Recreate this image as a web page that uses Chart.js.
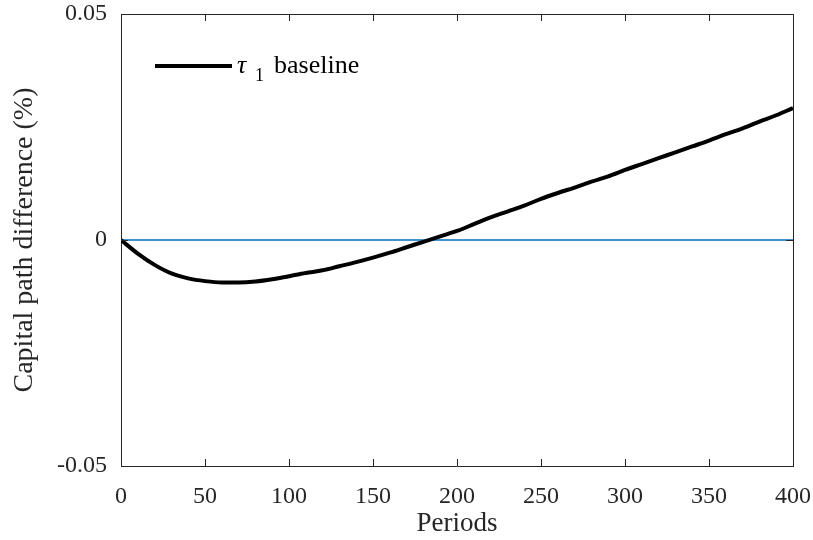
<!DOCTYPE html>
<html>
<head>
<meta charset="utf-8">
<script src="https://cdn.jsdelivr.net/npm/chart.js@4/dist/chart.umd.min.js"></script>
<style>
  html, body { margin: 0; padding: 0; background: #fff; }
  #wrap { width: 813px; height: 540px; }
</style>
</head>
<body>
<div id="wrap"><canvas id="myChart" width="813" height="540"></canvas></div>
<script>
// values
var periods = [0, 10, 20, 30, 40, 50, 60, 70, 80, 90, 100, 110, 120, 130, 140, 150, 160, 170, 180, 190,
               200, 210, 220, 230, 240, 250, 260, 270, 280, 290, 300, 310, 320, 330, 340, 350, 360, 370, 380, 390, 400];
var capDiff = [0, -0.0030, -0.0055, -0.0074, -0.0085, -0.0091, -0.0094, -0.0094, -0.0092, -0.0087,
               -0.0080, -0.0073, -0.0067, -0.0058, -0.0049, -0.0039, -0.0028, -0.0016, -0.0004, 0.0008,
               0.0020, 0.0035, 0.0050, 0.0063, 0.0076, 0.0091, 0.0104, 0.0116, 0.0129, 0.0141,
               0.0155, 0.0168, 0.0181, 0.0194, 0.0207, 0.0220, 0.0234, 0.0247, 0.0262, 0.0276, 0.0292];
var zeroX = [0, 400];
var zeroY = [0, 0];
var xTicks = [0, 50, 100, 150, 200, 250, 300, 350, 400];
var yTicks = [-0.05, 0, 0.05];
var yTickLabels = ['-0.05', '0', '0.05'];

var axisColor = 'rgb(38,38,38)';
var fontFamily = "'Liberation Serif', 'DejaVu Serif', serif";

function toPoints(xs, ys) {
  var pts = [];
  for (var i = 0; i < xs.length; i++) {
    pts.push({x: xs[i], y: ys[i]});
  }
  return pts;
}

// box round the plot and inward ticks, like the matlab figure
var boxPlugin = {
  id: 'boxPlugin',
  afterDatasetsDraw: function(chart) {
    var ctx = chart.ctx;
    var a = chart.chartArea;
    var xs = chart.scales.x, ys = chart.scales.y;
    ctx.save();
    ctx.strokeStyle = axisColor;
    ctx.lineWidth = 1;
    ctx.beginPath();
    ctx.moveTo(a.left, a.top + 0.5);
    ctx.lineTo(a.right + 0.5, a.top + 0.5);
    ctx.lineTo(a.right + 0.5, a.bottom);
    ctx.stroke();
    var len = 7;
    ctx.beginPath();
    for (var i = 0; i < xTicks.length; i++) {
      var px = Math.round(xs.getPixelForValue(xTicks[i])) + 0.5;
      ctx.moveTo(px, a.bottom);
      ctx.lineTo(px, a.bottom - len);
      ctx.moveTo(px, a.top);
      ctx.lineTo(px, a.top + len);
    }
    for (var j = 0; j < yTicks.length; j++) {
      var py = Math.round(ys.getPixelForValue(yTicks[j])) + 0.5;
      ctx.moveTo(a.left, py);
      ctx.lineTo(a.left + len, py);
      ctx.moveTo(a.right, py);
      ctx.lineTo(a.right - len, py);
    }
    ctx.stroke();
    ctx.restore();
  },
  afterDraw: function(chart) {
    // legend drawn inside the axes, top-left
    var ctx = chart.ctx;
    var a = chart.chartArea;
    var ds = chart.data.datasets[0];
    var lx = a.left + 34, ly = a.top + 52;
    ctx.save();
    ctx.strokeStyle = ds.borderColor;
    ctx.lineWidth = ds.borderWidth;
    ctx.beginPath();
    ctx.moveTo(lx, ly);
    ctx.lineTo(lx + 77, ly);
    ctx.stroke();
    ctx.fillStyle = '#000';
    ctx.textBaseline = 'alphabetic';
    ctx.font = 'italic 26px ' + fontFamily;
    ctx.fillText('\u03c4', lx + 82, ly + 7);
    ctx.font = '18px ' + fontFamily;
    ctx.fillText('1', lx + 100, ly + 15);
    ctx.font = '26px ' + fontFamily;
    ctx.fillText('baseline', lx + 119, ly + 7);
    ctx.restore();
  }
};

var config = {
  type: 'line',
  data: {
    datasets: [{
      label: '\u03c4\u2081 baseline',
      data: toPoints(periods, capDiff),
      borderColor: '#000',
      borderWidth: 4,
      pointRadius: 0,
      fill: false,
      cubicInterpolationMode: 'monotone',
      order: 0
    }, {
      label: 'zero',
      data: toPoints(zeroX, zeroY),
      borderColor: 'rgb(0,114,189)',
      borderWidth: 1.5,
      pointRadius: 0,
      fill: false,
      order: 1
    }]
  },
  options: {
    responsive: false,
    animation: false,
    layout: { padding: { top: 14, right: 20, left: 0, bottom: 0 } },
    plugins: {
      legend: { display: false },
      tooltip: { enabled: false }
    },
    scales: {
      x: {
        type: 'linear',
        min: 0,
        max: 400,
        afterBuildTicks: function(scale) {
          scale.ticks = xTicks.map(function(v) { return {value: v}; });
        },
        afterFit: function(scale) {
          scale.height = 74;
          scale.paddingLeft = 0;
          scale.paddingRight = 0;
        },
        grid: { drawOnChartArea: false, drawTicks: false },
        border: { display: true, color: axisColor, width: 1 },
        ticks: {
          color: axisColor,
          padding: 16,
          maxRotation: 0,
          font: { family: fontFamily, size: 24 }
        },
        title: {
          display: true,
          text: 'Periods',
          color: axisColor,
          padding: { top: 0, bottom: 0 },
          font: { family: fontFamily, size: 27 }
        }
      },
      y: {
        type: 'linear',
        min: -0.05,
        max: 0.05,
        afterBuildTicks: function(scale) {
          scale.ticks = yTicks.map(function(v) { return {value: v}; });
        },
        afterFit: function(scale) {
          scale.width = 121;
          scale.paddingTop = 0;
          scale.paddingBottom = 0;
        },
        grid: { drawOnChartArea: false, drawTicks: false },
        border: { display: true, color: axisColor, width: 1 },
        ticks: {
          color: axisColor,
          padding: 14,
          font: { family: fontFamily, size: 24 },
          callback: function(value) {
            var k = yTicks.indexOf(value);
            return k >= 0 ? yTickLabels[k] : '';
          }
        },
        title: {
          display: true,
          text: 'Capital path difference (%)',
          color: axisColor,
          padding: { top: 8, bottom: 4 },
          font: { family: fontFamily, size: 28 }
        }
      }
    }
  },
  plugins: [boxPlugin]
};

var myChart = new Chart(document.getElementById('myChart'), config);
</script>
</body>
</html>
